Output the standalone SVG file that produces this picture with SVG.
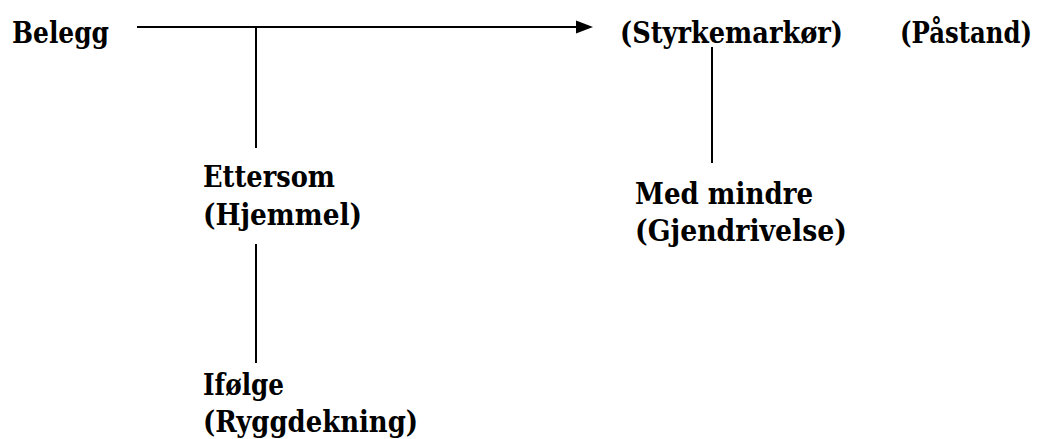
<svg xmlns="http://www.w3.org/2000/svg" width="1043" height="439" viewBox="0 0 1043 439">
<style>
.t{font-family:"DejaVu Serif","Liberation Serif",serif;font-weight:bold;font-size:29px;fill:#000}
.c{stroke:#000;stroke-width:2;fill:none}
</style>
<rect width="1043" height="439" fill="#fff"/>
<g id="connectors">
<line class="c" x1="137" y1="27" x2="577" y2="27"/>
<polygon points="576,20.5 593,27 576,33.5" fill="#000"/>
<line class="c" x1="256" y1="27" x2="256" y2="148"/>
<line class="c" x1="256" y1="244" x2="256" y2="363"/>
<line class="c" x1="712" y1="47" x2="712" y2="163"/>
</g>
<g id="belegg"><text class="t" x="12" y="43" textLength="97" lengthAdjust="spacingAndGlyphs">Belegg</text></g>
<g id="styrkemarkor"><text class="t" x="620" y="43" textLength="223" lengthAdjust="spacingAndGlyphs">(Styrkemarkør)</text></g>
<g id="pastand"><text class="t" x="1032" y="43" text-anchor="end" textLength="132" lengthAdjust="spacingAndGlyphs">(Påstand)</text></g>
<g id="ettersom">
<text class="t" x="203" y="187" textLength="132" lengthAdjust="spacingAndGlyphs">Ettersom</text>
<text class="t" x="203" y="225" textLength="159" lengthAdjust="spacingAndGlyphs">(Hjemmel)</text>
</g>
<g id="ifolge">
<text class="t" x="203" y="395" textLength="81" lengthAdjust="spacingAndGlyphs">Ifølge</text>
<text class="t" x="203" y="432" textLength="215" lengthAdjust="spacingAndGlyphs">(Ryggdekning)</text>
</g>
<g id="medmindre">
<text class="t" x="635" y="204" textLength="178" lengthAdjust="spacingAndGlyphs">Med mindre</text>
<text class="t" x="635" y="241" textLength="212" lengthAdjust="spacingAndGlyphs">(Gjendrivelse)</text>
</g>
</svg>
